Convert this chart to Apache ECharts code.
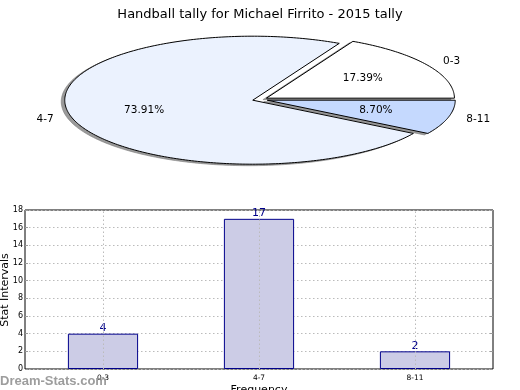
<!DOCTYPE html>
<html>
<head>
<meta charset="utf-8">
<script src="https://cdn.jsdelivr.net/npm/echarts@6/dist/echarts.min.js"></script>
<style>
html,body{margin:0;padding:0;background:#fff;}
#chart{width:520px;height:390px;}
</style>
</head>
<body>
<div id="chart"></div>
<script>
const categories = ['0-3', '4-7', '8-11'];
const values = [4, 17, 2];
const sliceColors = ['#ffffff', '#ebf2fe', '#c5d9fe'];
const yTicks = [0, 2, 4, 6, 8, 10, 12, 14, 16, 18];
const titleText = 'Handball tally for Michael Firrito - 2015 tally';

const FONT = 'DejaVu Sans';
const total = values.reduce((a, b) => a + b, 0);

// pie geometry (elliptical, like the reference)
const PIE = { cx: 260, cy: 99.5, rx: 188, ry: 64, explode: 0.04, shadowDx: -3.5, shadowDy: 1.5 };

function arcPoints(ax, ay, a0, a1) {
  const pts = [[ax, ay]];
  const steps = Math.max(2, Math.ceil((a1 - a0) / 1));
  for (let k = 0; k <= steps; k++) {
    const t = (a0 + (a1 - a0) * k / steps) * Math.PI / 180;
    pts.push([ax + PIE.rx * Math.cos(t), ay - PIE.ry * Math.sin(t)]);
  }
  return pts;
}

function renderSlice(params, api) {
  const i = params.dataIndex;
  const v = api.value(0);
  let before = 0;
  for (let k = 0; k < i; k++) before += values[k];
  const a0 = before / total * 360;
  const a1 = (before + v) / total * 360;
  const mid = (a0 + a1) / 2 * Math.PI / 180;
  const cm = Math.cos(mid), sm = Math.sin(mid);
  const ax = PIE.cx + PIE.explode * PIE.rx * cm;
  const ay = PIE.cy - PIE.explode * PIE.ry * sm;
  const pts = arcPoints(ax, ay, a0, a1);
  const shadowPts = pts.map(p => [p[0] + PIE.shadowDx, p[1] + PIE.shadowDy]);
  const lx = ax + 1.1 * PIE.rx * cm;
  const ly = ay - 1.1 * PIE.ry * sm;
  const px = ax + 0.6 * PIE.rx * cm;
  const py = ay - 0.6 * PIE.ry * sm;
  return {
    type: 'group',
    children: [
      { type: 'polygon', z2: 0, shape: { points: shadowPts }, style: { fill: '#9a9a9a', stroke: '#7a7a7a', lineWidth: 0.6 } },
      { type: 'polygon', z2: 10, shape: { points: pts }, style: { fill: sliceColors[i], stroke: '#000', lineWidth: 1 } },
      { type: 'text', z2: 20, style: { text: categories[i], x: lx, y: ly, align: cm >= 0 ? 'left' : 'right', verticalAlign: 'middle', fontSize: 10.5, fontFamily: FONT, fill: '#000' } },
      { type: 'text', z2: 20, style: { text: (v / total * 100).toFixed(2) + '%', x: px, y: py, align: 'center', verticalAlign: 'middle', fontSize: 10.5, fontFamily: FONT, fill: '#000' } }
    ]
  };
}

const chart = echarts.init(document.getElementById('chart'), null, { renderer: 'canvas' });
chart.setOption({
  animation: false,
  backgroundColor: '#fff',
  title: {
    text: titleText, left: 'center', top: 3,
    textStyle: { fontFamily: FONT, fontSize: 13, fontWeight: 'normal', color: '#000' }
  },
  graphic: [{
    type: 'text', x: 0, y: 381, z: 100,
    style: { text: 'Dream-Stats.com', fontFamily: 'Liberation Sans', fontWeight: 'bold', fontSize: 13, fill: 'rgba(140,140,140,0.85)', verticalAlign: 'middle', align: 'left' }
  }, {
    type: 'text', x: 5, y: 290, rotation: Math.PI / 2, z: 100,
    style: { text: 'Stat Intervals', fontFamily: FONT, fontSize: 11, fill: '#000', align: 'center', verticalAlign: 'middle' }
  }],
  grid: {
    left: 25, right: 27, top: 210, bottom: 21,
    outerBoundsMode: 'none', containLabel: false,
    show: true, borderColor: '#000', borderWidth: 1, backgroundColor: 'transparent'
  },
  xAxis: {
    type: 'category', data: categories,
    name: 'Frequency', nameLocation: 'middle', nameGap: 16,
    nameTextStyle: { fontFamily: FONT, fontSize: 11, color: '#000' },
    axisLine: { show: false },
    axisTick: { show: false },
    axisLabel: { fontFamily: FONT, fontSize: 7.5, color: '#000', margin: 5 },
    splitLine: { show: false }
  },
  yAxis: [{
    type: 'value', min: yTicks[0], max: yTicks[yTicks.length - 1], interval: yTicks[1] - yTicks[0],
    axisLine: { show: false },
    axisTick: { show: true, inside: true, length: 3, lineStyle: { color: '#999' } },
    axisLabel: { fontFamily: FONT, fontSize: 8, color: '#000', margin: 2 },
    splitLine: { show: true, lineStyle: { color: '#bbb', type: [1.5, 2.5], width: 1 } }
  }, {
    type: 'value', position: 'right', min: yTicks[0], max: yTicks[yTicks.length - 1], interval: yTicks[1] - yTicks[0],
    axisLine: { show: false },
    axisTick: { show: true, inside: true, length: 3, lineStyle: { color: '#999' } },
    axisLabel: { show: false },
    splitLine: { show: false }
  }],
  series: [{
    type: 'custom',
    coordinateSystem: 'none',
    renderItem: renderSlice,
    data: values.map(v => [v]),
    silent: true
  }, {
    type: 'bar',
    data: values,
    barWidth: '45%',
    itemStyle: { color: '#cccce6', borderColor: '#00008b', borderWidth: 1 },
    label: { show: true, position: 'top', distance: 0, fontFamily: FONT, fontSize: 11, color: '#00008b' },
    markLine: {
      silent: true, symbol: 'none', label: { show: false },
      lineStyle: { color: '#bbb', type: [1.5, 2.5], width: 1 },
      data: categories.map(c => ({ xAxis: c }))
    }
  }]
});
</script>
</body>
</html>
